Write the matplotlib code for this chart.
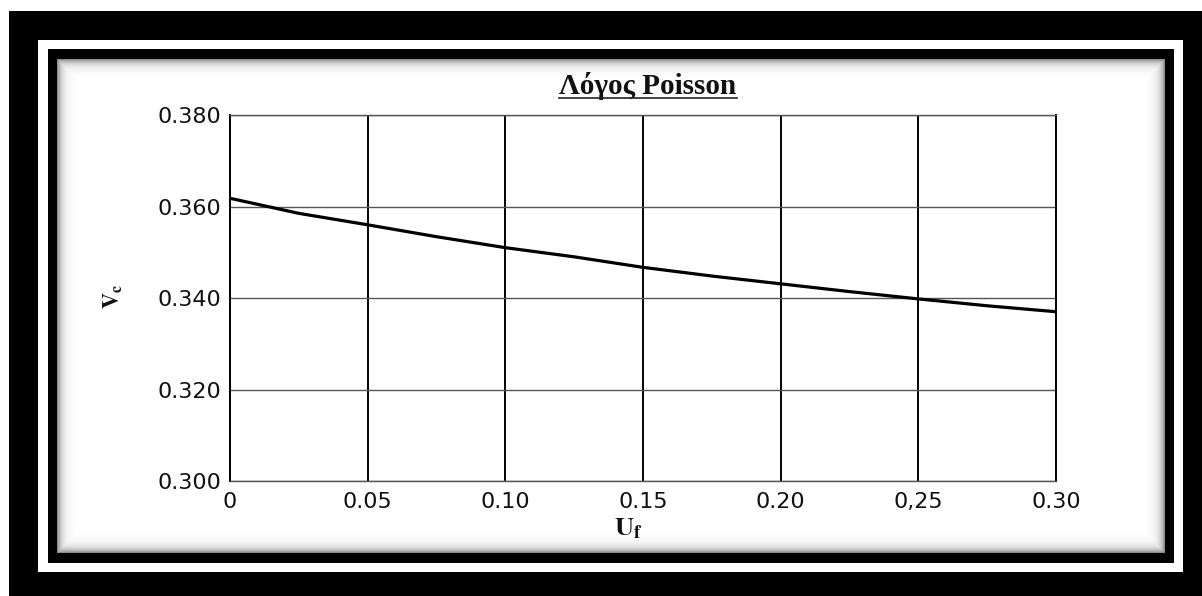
import numpy as np
import matplotlib
matplotlib.use("Agg")
import matplotlib.pyplot as plt
from matplotlib.patches import Rectangle

# data
uf = [0.0, 0.025, 0.05, 0.075, 0.10, 0.125, 0.15, 0.175, 0.20, 0.225, 0.25, 0.275, 0.30]
vc = [0.3618, 0.3585, 0.3560, 0.3534, 0.3510, 0.3490, 0.3467, 0.3448, 0.3431, 0.3414, 0.3398, 0.3383, 0.3370]
x_ticks = [0.0, 0.05, 0.10, 0.15, 0.20, 0.25, 0.30]
x_labels = ["0", "0.05", "0.10", "0.15", "0.20", "0,25", "0.30"]
y_ticks = [0.300, 0.320, 0.340, 0.360, 0.380]
y_labels = ["0.300", "0.320", "0.340", "0.360", "0.380"]

plt.rcParams["mathtext.fontset"] = "stix"

W, H = 1202, 596
fig = plt.figure(figsize=(W / 100, H / 100), dpi=100)
fig.patch.set_facecolor("white")

# frame drawn in pixel coordinates
bg = fig.add_axes([0, 0, 1, 1])
bg.set_xlim(0, W)
bg.set_ylim(H, 0)
bg.axis("off")
bg.add_patch(Rectangle((9, 11), W - 9, H - 11, color="black", lw=0))
bg.add_patch(Rectangle((38, 40), 1183 - 38, 572 - 40, color="white", lw=0))
bg.add_patch(Rectangle((48, 49), 1174 - 48, 563 - 49, color="black", lw=0))

# soft grey shadow inside the inner frame
x0, x1, y0, y1 = 57, 1165, 59, 553
xx = np.arange(x1 - x0)
yy = np.arange(y1 - y0)
dx = np.minimum(xx, xx[::-1])
dy = np.minimum(yy, yy[::-1])
d = np.minimum(dx[None, :], dy[:, None])
shade = 1 - 0.45 * np.exp(-d / 4.5)
bg.imshow(shade, cmap="gray", vmin=0, vmax=1, extent=(x0, x1, y1, y0),
          aspect="auto", interpolation="bilinear", zorder=2)

# main plot area
left, right, top, bottom = 230, 1056, 115, 481
ax = fig.add_axes([left / W, (H - bottom) / H, (right - left) / W, (bottom - top) / H])
ax.set_facecolor("none")
ax.set_xlim(0, 0.30)
ax.set_ylim(0.300, 0.380)

for x in x_ticks:
    ax.axvline(x, color="black", lw=1.4, zorder=1)
for y in y_ticks:
    ax.axhline(y, color="#555555", lw=1.0, zorder=1)

ax.plot(uf, vc, color="black", lw=2.3, zorder=3)

for side in ["left", "right"]:
    ax.spines[side].set_color("black")
    ax.spines[side].set_linewidth(1.4)
for side in ["top", "bottom"]:
    ax.spines[side].set_color("#555555")
    ax.spines[side].set_linewidth(1.0)

ax.set_xticks(x_ticks)
ax.set_xticklabels(x_labels)
ax.set_yticks(y_ticks)
ax.set_yticklabels(y_labels)
ax.tick_params(length=0, labelsize=16, colors="#111111")
ax.tick_params(axis="x", pad=8)
ax.tick_params(axis="y", pad=6)

# title with underline
t = bg.text(648, 94, "Λόγος Poisson", ha="center", va="baseline",
            family="Liberation Serif", weight="bold", fontsize=21, color="#111111", zorder=5)
bg.text(628, 535, r"$\mathbf{U}_{\mathbf{f}}$", ha="center", va="baseline",
        fontsize=19, color="#111111", zorder=5)
bg.text(112, 296, r"$\mathbf{V}_{\mathbf{c}}$", ha="center", va="center",
        rotation=90, fontsize=16, color="#111111", zorder=5)

fig.canvas.draw()
bb = t.get_window_extent().transformed(bg.transData.inverted())
bg.plot([bb.x0, bb.x1], [98, 98], color="#222222", lw=1.2, zorder=5)

fig.savefig("out.png", dpi=100)
